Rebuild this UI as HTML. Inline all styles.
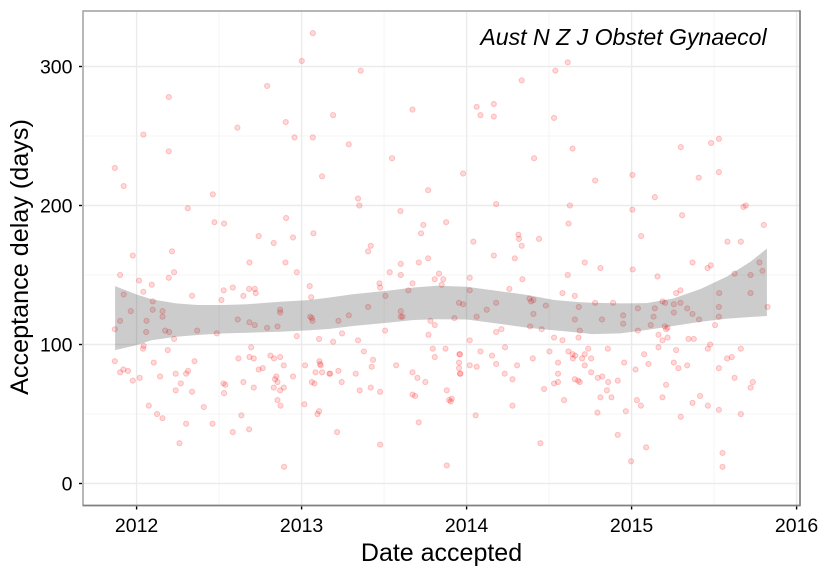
<!DOCTYPE html>
<html>
<head>
<meta charset="utf-8">
<title>Acceptance delay chart</title>
<style>
html,body{margin:0;padding:0;background:#fff;}
svg{display:block;font-family:"Liberation Sans",sans-serif;}
</style>
</head>
<body>
<svg id="chart" width="825" height="570" viewBox="0 0 825 570" xmlns="http://www.w3.org/2000/svg"></svg>
<script>
const xTicks = [2012, 2013, 2014, 2015, 2016];
const xMinorTicks = [2012.5, 2013.5, 2014.5, 2015.5];
const yTicks = [0, 100, 200, 300];
const yMinorTicks = [50, 150, 250];
const journalTitle = "Aust N Z J Obstet Gynaecol";
const xAxisTitle = "Date accepted";
const yAxisTitle = "Acceptance delay (days)";

const acceptedDates = [
2013.068,2013.001,2012.791,2012.195,2012.611,2012.904,2012.957,2013.068,2012.041,2012.195,2011.868,2011.922,
2013.124,2012.462,2012.310,2012.472,2012.530,2012.906,2012.740,2012.831,2012.948,2013.072,2011.977,2012.215,
2012.684,2012.902,2012.971,2012.227,2011.900,2012.195,2012.015,2012.092,2013.049,2012.583,2012.528,2012.682,
2012.716,2012.722,2012.647,2012.336,2012.041,2011.922,2013.058,2012.514,2012.098,2012.098,2012.157,2011.965,
2012.157,2012.870,2012.870,2013.052,2013.062,2013.066,2012.613,2012.684,2012.716,2012.791,2012.854,2012.060,
2011.900,2011.868,2012.058,2012.173,2012.197,2012.367,2012.486,2012.971,2013.106,2012.227,2012.043,2012.039,
2012.189,2012.694,2012.617,2012.684,2012.710,2012.811,2012.833,2012.870,2012.892,2013.021,2013.108,2013.112,
2013.116,2012.351,2012.104,2011.868,2011.920,2011.948,2011.900,2012.237,2012.300,2012.312,2012.142,2012.019,
2011.977,2012.740,2012.765,2012.847,2012.839,2012.854,2012.948,2013.084,2013.124,2013.169,2013.062,2013.078,
2012.647,2012.526,2012.538,2012.268,2012.710,2012.831,2012.892,2012.870,2012.237,2012.336,2012.530,2012.854,
2012.872,2013.017,2012.074,2012.407,2012.124,2012.157,2012.635,2013.096,2013.106,2012.300,2012.460,2012.682,
2012.583,2012.260,2012.894,
2013.358,2013.191,2013.672,2014.061,2014.165,2014.084,2014.165,2014.334,2014.538,2014.613,2014.530,2013.286,
2013.548,2014.409,2013.979,2013.767,2013.342,2013.350,2013.599,2014.179,2013.738,2013.876,2013.724,2013.419,
2013.403,2014.041,2014.314,2014.318,2014.439,2014.334,2014.165,2014.292,2013.767,
2013.601,2013.710,2013.534,2013.601,2013.833,2013.807,2013.859,2013.849,2014.019,2014.338,2013.472,2013.476,
2013.672,2013.647,2014.019,2014.259,2014.613,2014.581,2013.508,2013.403,2013.286,2013.223,2013.601,2013.601,
2013.611,2013.954,2013.979,2013.926,2014.061,2014.122,2014.179,2014.381,2014.405,2014.391,2014.405,2014.480,
2014.385,2014.455,2014.211,2014.179,2013.781,2013.807,2013.769,2013.506,2013.245,2013.342,2013.191,2014.019,
2014.530,2014.581,2013.795,2013.872,2013.377,2013.956,2013.960,2014.084,2014.233,2014.154,2014.502,2014.617,
2014.401,2014.554,2013.807,2013.433,2013.425,2013.573,2013.954,2013.954,2014.019,2014.061,2014.179,2014.306,
2013.672,2013.702,2013.960,2013.962,2013.223,2013.173,2013.328,2013.243,2014.231,2014.278,2014.554,2014.554,
2014.530,2013.750,2013.419,2013.352,2013.476,2013.880,2014.470,2013.672,2013.688,2013.910,2013.894,2013.904,
2014.591,2014.278,2014.055,2013.710,2013.215,2013.476,2014.447,2013.880,
2014.642,2014.626,2014.618,2014.779,2015.005,2015.005,2015.141,2015.058,2015.298,2015.482,2015.529,2015.407,
2015.529,2015.306,2015.678,2015.692,2015.801,2015.581,2015.662,
2014.716,2014.811,2015.007,2015.369,2015.460,2015.480,2015.775,2015.793,2015.157,2015.624,2015.721,2014.656,
2015.531,2015.721,2015.270,2015.296,2014.779,2014.888,2015.187,2015.203,2015.256,2015.296,2014.680,2015.038,
2015.141,2015.337,2015.529,2015.824,2014.949,2015.256,2015.369,2015.133,2015.529,2015.409,2014.656,2014.820,
2014.949,2015.116,2015.506,2015.201,2015.218,2015.209,2015.038,2014.686,2015.163,2014.678,2015.218,2015.345,
2015.377,2015.187,2015.476,2014.856,2015.163,2015.270,2015.462,2015.662,2014.737,2014.642,2014.658,2014.716,
2015.076,2014.644,2014.700,2014.755,2015.579,2015.607,2014.716,2014.955,2015.102,2015.256,2015.337,2015.024,
2015.284,2015.529,2014.755,2014.795,2014.822,2015.624,2014.656,2014.676,2014.686,2014.916,2014.858,2015.735,
2015.721,2015.209,2014.850,2014.811,2014.878,2015.187,2015.415,2015.032,2015.369,2015.056,2015.462,2015.529,
2014.793,2014.965,2015.662,2015.298,2014.916,2015.088,2014.997,2015.551,2015.551
];
const delayDays = [
324,304,286,278,256,260,249,249,251,239,227,214,
221,208,198,188,187,191,178,173,177,180,164,167,
159,159,152,152,150,148,146,143,142,141,139,140,
140,137,135,135,138,136,134,132,131,125,124,124,
120,125,123,120,119,117,118,116,114,112,113,117,
117,111,109,110,109,110,108,106,104,104,99,97,
96,98,90,91,90,92,90,91,85,85,88,86,
85,88,87,88,82,81,80,79,79,81,77,76,
74,82,83,77,75,73,77,80,80,79,73,72,
73,72,71,72,69,69,69,67,67,66,65,60,
56,57,56,55,50,47,49,50,52,43,43,39,
37,29,12,
297,265,269,271,273,265,264,290,297,303,263,244,
234,234,223,211,205,200,196,201,186,188,180,171,
167,174,179,176,176,171,164,162,162,
158,159,152,150,151,147,147,143,148,147,144,141,
144,139,139,140,150,137,135,127,121,117,124,120,
120,130,129,119,120,125,130,133,132,131,122,128,
113,111,111,109,117,114,107,110,108,103,102,103,
105,103,97,97,95,93,93,95,98,92,95,95,
90,87,91,89,84,85,87,83,85,84,86,85,
80,76,79,79,81,79,79,73,79,75,79,73,
72,73,69,67,66,67,68,64,63,61,60,59,
60,56,49,44,37,28,29,13,
241,200,187,218,222,197,206,178,242,245,248,220,
224,193,199,200,186,174,174,
159,155,154,159,155,157,159,153,149,151,150,135,
137,137,137,139,130,130,131,130,129,130,127,126,
126,126,127,127,121,123,122,120,120,118,118,118,
115,114,114,113,112,111,110,110,107,105,105,104,
104,103,100,97,98,96,97,97,97,93,92,93,
93,90,90,90,90,91,85,87,86,87,85,82,
83,83,80,76,77,76,75,74,73,74,73,73,
69,71,67,62,62,62,63,60,58,56,56,53,
51,52,50,48,35,26,16,22,12
];

const smoothDates = [2011.87,2012.0,2012.09,2012.24,2012.37,2012.53,2012.67,2012.87,2013.05,2013.17,2013.31,2013.52,2013.68,2013.82,2014.0,2014.18,2014.37,2014.53,2014.69,2014.76,2014.93,2015.09,2015.25,2015.42,2015.58,2015.72,2015.82];
const ciUpper = [142,136,132.5,129.6,128.4,128.4,128.9,130.8,132,133.8,136.2,138.7,141,142.3,141.6,138.7,135.6,132,130.4,130,129.6,129.8,133,140,149,159.6,169];
const ciLower = [96,99.6,103,105.6,106.8,108,108.5,109.2,110.2,111.2,113.3,115.6,117.6,118.2,118,115.2,112,110.2,108.5,107.5,108,110.4,113.3,116.4,118.6,119.8,120.5];

const svg = document.getElementById('chart');
const NS = 'http://www.w3.org/2000/svg';
const panel = {left: 83, right: 800, top: 11, bottom: 505.5};
function xScale(v) { return 136.6 + (v - 2012) * 165; }
function yScale(v) { return 483.5 - v * 1.39; }
function make(tag, attrs, parent) {
  const el = document.createElementNS(NS, tag);
  for (const k in attrs) el.setAttribute(k, attrs[k]);
  (parent || svg).appendChild(el);
  return el;
}

// panel background
const bg = make('rect', {x: panel.left, y: panel.top, width: panel.right - panel.left, height: panel.bottom - panel.top, fill: '#fff'});



// gridlines
xMinorTicks.forEach(function (t) {
  const g = make('line', {x1: xScale(t), x2: xScale(t), y1: panel.top, y2: panel.bottom, stroke: '#f5f5f5', 'stroke-width': 1});
  
  
});
yMinorTicks.forEach(function (t) {
  const g = make('line', {x1: panel.left, x2: panel.right, y1: yScale(t), y2: yScale(t), stroke: '#f5f5f5', 'stroke-width': 1});
  
  
});
xTicks.forEach(function (t) {
  const g = make('line', {x1: xScale(t), x2: xScale(t), y1: panel.top, y2: panel.bottom, stroke: '#ebebeb', 'stroke-width': 1.4});
  
  
});
yTicks.forEach(function (t) {
  const g = make('line', {x1: panel.left, x2: panel.right, y1: yScale(t), y2: yScale(t), stroke: '#ebebeb', 'stroke-width': 1.4});
  
  
});

// points
const pointsGroup = make('g', {});


acceptedDates.forEach(function (d, i) {
  const c = make('circle', {cx: xScale(d), cy: yScale(delayDays[i]), r: 2.6, fill: 'rgba(255,0,0,0.15)', stroke: 'rgba(255,0,0,0.2)', 'stroke-width': 1}, pointsGroup);
  
  
});

// confidence ribbon
const upperPts = smoothDates.map(function (d, i) { return xScale(d).toFixed(1) + ',' + yScale(ciUpper[i]).toFixed(1); });
const lowerPts = smoothDates.map(function (d, i) { return xScale(d).toFixed(1) + ',' + yScale(ciLower[i]).toFixed(1); }).reverse();
const ribbon = make('polygon', {points: upperPts.concat(lowerPts).join(' '), fill: '#333', 'fill-opacity': 0.25});



// panel border
const borderLeft = make('line', {x1: panel.left, x2: panel.left, y1: panel.top - 0.8, y2: panel.bottom + 0.8, stroke: '#ababab', 'stroke-width': 1.7});


const borderTop = make('line', {x1: panel.left, x2: panel.right, y1: panel.top, y2: panel.top, stroke: '#ababab', 'stroke-width': 1.7});


const borderRight = make('line', {x1: panel.right, x2: panel.right, y1: panel.top - 0.8, y2: panel.bottom + 0.8, stroke: '#7f7f7f', 'stroke-width': 1.7});


const borderBottom = make('line', {x1: panel.left, x2: panel.right, y1: panel.bottom, y2: panel.bottom, stroke: '#7f7f7f', 'stroke-width': 1.7});



// ticks and labels
xTicks.forEach(function (t) {
  const m = make('line', {x1: xScale(t), x2: xScale(t), y1: panel.bottom + 1, y2: panel.bottom + 4, stroke: '#000', 'stroke-width': 1.4});
  
  
  const l = make('text', {x: xScale(t), y: 532, 'text-anchor': 'middle', 'font-size': 19.5, fill: '#000'});
  l.textContent = String(t);
  
  
});
yTicks.forEach(function (t) {
  const m = make('line', {x1: panel.left - 4, x2: panel.left - 1, y1: yScale(t), y2: yScale(t), stroke: '#000', 'stroke-width': 1.4});
  
  
  const l = make('text', {x: 72.5, y: yScale(t) + 7, 'text-anchor': 'end', 'font-size': 19.5, fill: '#000'});
  l.textContent = String(t);
  
  
});

// titles
const xTitle = make('text', {x: 441.5, y: 561, 'text-anchor': 'middle', 'font-size': 25, fill: '#000'});
xTitle.textContent = xAxisTitle;


const yTitle = make('text', {x: 0, y: 0, transform: 'translate(28,257) rotate(-90)', 'text-anchor': 'middle', 'font-size': 25.2, fill: '#000'});
yTitle.textContent = yAxisTitle;


const jTitle = make('text', {x: 623.5, y: 45, 'text-anchor': 'middle', 'font-size': 23.1, 'font-style': 'italic', fill: '#000'});
jTitle.textContent = journalTitle;


</script>
</body>
</html>
